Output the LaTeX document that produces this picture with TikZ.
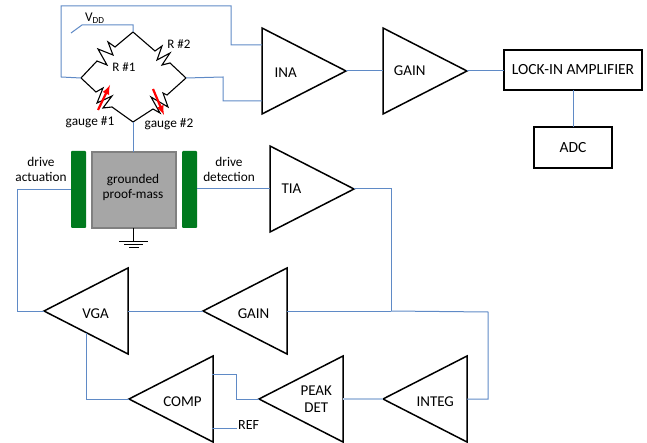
\documentclass[tikz,border=0pt]{standalone}
\usepackage{fontspec}
\setmainfont{Carlito}
\usetikzlibrary{positioning,shapes.geometric}
\definecolor{wireblue}{HTML}{5F8AC6}
\definecolor{massgray}{HTML}{A6A6A6}
\definecolor{plategreen}{HTML}{007A1E}
\tikzset{
  amp/.style={draw,isosceles triangle,isosceles triangle stretches,minimum width=86pt,minimum height=84pt,inner sep=0pt,outer sep=0pt,line width=1.5pt,font=\fontsize{15}{17}\selectfont,align=center},
  ampback/.style={amp,shape border rotate=180},
  capline/.style={text height=14pt,text depth=0pt},
  blockbox/.style={draw,line width=1.5pt,inner sep=0pt,outer sep=0pt,font=\fontsize{15.5}{17}\selectfont},
  plate/.style={fill=plategreen,rounded corners=1pt,minimum width=15pt,minimum height=77pt,inner sep=0pt,outer sep=0pt},
  wire/.style={wireblue,line width=1pt},
  palewire/.style={wireblue!50,line width=1.2pt},
  bridgeline/.style={black,line width=1.1pt,line join=miter},
  tag/.style={font=\fontsize{13.3}{15}\selectfont,align=center,inner sep=0pt}
}
\begin{document}
\begin{tikzpicture}[x=1pt,y=-1pt,>=latex]
        \useasboundingbox (0,0) rectangle (647,443);
        % top chain
        \node[amp,capline,anchor=apex] (ina) at (346,71) {INA\hspace*{8pt}};
        \node[amp,anchor=apex] (gain) at (467,71) {GAIN\hspace*{8pt}};
        \node[blockbox,minimum width=138pt,minimum height=40pt] (lockin) at (573,70) {LOCK-IN AMPLIFIER};
        \node[blockbox,minimum width=78pt,minimum height=41pt,below=37pt of lockin] (adc) {ADC};
        \node[amp,anchor=apex] (tia) at (354,189) {TIA\hspace*{18pt}};
        % bottom loop
        \node[ampback,capline,anchor=apex] (vga) at (44,311) {VGA\hspace*{8pt}};
        \node[ampback,capline,anchor=apex] (gainback) at (203,311) {GAIN\hspace*{8pt}};
        \node[ampback,capline,anchor=apex] (comp) at (129,399) {COMP\hspace*{2pt}};
        \node[ampback,anchor=apex] (peak) at (259,399) {PEAK\hspace*{4pt}\\DET\hspace*{4pt}};
        \node[ampback,capline,anchor=apex] (integ) at (383,399) {INTEG\hspace*{4pt}};
        \node[tag,font=\fontsize{14}{15}\selectfont,anchor=west] (ref) at (238,425) {REF};
        % proof mass
        \node[draw=gray,fill=massgray,line width=1.2pt,minimum width=84pt,minimum height=76pt,inner sep=0pt,outer sep=0pt] (mass) at (134,190) {};
        \node[tag] (masslabel) at (133,187) {grounded\\proof-mass};
        \node[plate] (act) at (78.5,189.5) {};
        \node[plate] (det) at (189.5,189.5) {};
        \node[tag] (actlabel) at (41,169) {drive\\actuation};
        \node[tag] (detlabel) at (229,169) {drive\\detection};
        % bridge
        \coordinate (btop) at (133,32);
        \coordinate (bleft) at (81,78);
        \coordinate (bright) at (186,78);
        \coordinate (bbot) at (133,122);
        \draw[bridgeline] (btop) -- (115,47) -- (108,42) -- (113,55) -- (98,49) -- (107,65) -- (97,61) -- (bleft);
        \draw[bridgeline] (btop) -- (155,51) -- (162,46) -- (157,60) -- (170,53) -- (162,65) -- (170,63) -- (bright);
        \draw[bridgeline] (bleft) -- (96,92) -- (103,88) -- (97,103) -- (112,96) -- (103,108) -- (112,107) -- (bbot);
        \draw[bridgeline] (bright) -- (167,95) -- (163,93) -- (168,107) -- (151,97) -- (160,113) -- (153,109) -- (bbot);
        \draw[red,line width=2.2pt,-latex] (98,110) -- (110,85);
        \draw[red,line width=2.2pt,-latex] (153,89) -- (164,115);
        \node[tag,font=\fontsize{13}{15}\selectfont] (r1) at (124,67) {R \#1};
        \node[tag,font=\fontsize{13}{15}\selectfont] (r2) at (179,44) {R \#2};
        \node[tag] (g1) at (90,122) {gauge \#1};
        \node[tag] (g2) at (169,124) {gauge \#2};
        \node[tag,anchor=west] (vdd) at (85,18) {V\textsubscript{DD}};
        % supply and ground
        \coordinate (vddend) at (71,33);
        \draw[wire] (btop) -- (133,25) -- (82,25) -- (vddend);
        \draw[wire] (bbot) -- (mass.north -| bbot);
        \coordinate (gnd) at (133,241);
        \draw[line width=0.7pt] (mass.south -| gnd) -- (gnd);
        \draw[line width=0.7pt] (119,241) -- (148,241) (124,244) -- (143,244) (129,247) -- (139,247);
        % wires
        \coordinate (inaup) at (262,45);
        \coordinate (inalow) at (262,101);
        \draw[wire] (bleft) -- (61,77) -- (61,6) -- (231,6) -- (231,45) -- (inaup);
        \draw[wire] (bright) -- (223,77) -- (223,101) -- (inalow);
        \draw[wire] (ina.apex) -- (ina.apex -| gain.lower side);
        \draw[wire] (gain.apex) -- (gain.apex -| lockin.west);
        \draw[wire] (lockin) -- (adc);
        \draw[wire] (det.east |- tia.apex) -- (tia.apex -| tia.lower side);
        \coordinate (node) at (391,311);
        \draw[wire] (tia.apex) -| (node);
        \draw[wire] (gainback.lower side) -- (node);
        \draw[wire] (node) -- (488,312) |- (integ.lower side);
        \draw[wire] (gainback.apex) -- (vga.lower side);
        \draw[wire] (vga.apex) -- (17,311) |- (act.west);
        \coordinate (vgaout) at (86,333);
        \draw[wire] (vgaout) |- (comp.apex);
        \coordinate (compin) at (212,374);
        \draw[wire] (compin) -| (236,399) -- (peak.apex);
        \coordinate (compref) at (212,428);
        \draw[wire] (compref) -- (237,428);
        \draw[palewire] (peak.lower side) -- (integ.apex);
\end{tikzpicture}
\end{document}
